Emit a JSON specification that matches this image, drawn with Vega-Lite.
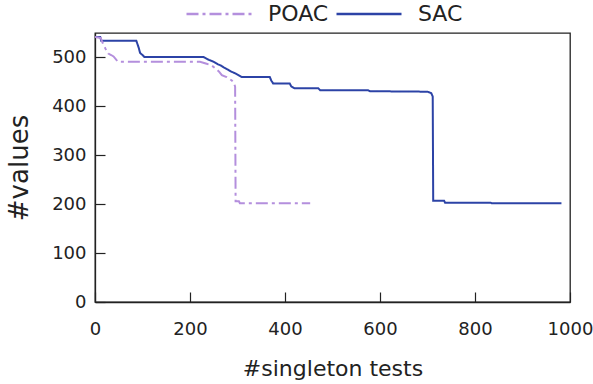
{
  "$schema": "https://vega.github.io/schema/vega-lite/v6.json",
  "width": 475,
  "height": 269,
  "autosize": "none",
  "padding": {"left": 95, "top": 33, "right": 23, "bottom": 82},
  "background": "white",
  "config": {
    "font": "DejaVu Sans",
    "view": {"stroke": "#222", "strokeWidth": 1.3},
    "axis": {
      "grid": false,
      "domainColor": "#222",
      "domainWidth": 1.3,
      "tickColor": "#222",
      "tickWidth": 1.2,
      "tickSize": -10,
      "labelFont": "DejaVu Sans",
      "labelFontSize": 18,
      "labelColor": "#222",
      "titleFont": "DejaVu Sans",
      "titleFontWeight": "normal",
      "titleColor": "#222"
    },
    "legend": {
      "orient": "none",
      "legendX": 90,
      "legendY": -53,
      "direction": "horizontal",
      "symbolType": "stroke",
      "symbolSize": 4225,
      "symbolStrokeWidth": 2.5,
      "labelFontSize": 22,
      "labelFont": "DejaVu Sans",
      "labelColor": "#222",
      "labelOffset": 15,
      "columnPadding": 2
    }
  },
  "data": {
    "values": [
      {"tests": 0, "values": 542, "method": "SAC"},
      {"tests": 11, "values": 542, "method": "SAC"},
      {"tests": 13, "values": 534, "method": "SAC"},
      {"tests": 87, "values": 534, "method": "SAC"},
      {"tests": 92, "values": 520, "method": "SAC"},
      {"tests": 95, "values": 509, "method": "SAC"},
      {"tests": 100, "values": 505, "method": "SAC"},
      {"tests": 104, "values": 501, "method": "SAC"},
      {"tests": 228, "values": 501, "method": "SAC"},
      {"tests": 240, "values": 495, "method": "SAC"},
      {"tests": 250, "values": 491, "method": "SAC"},
      {"tests": 259, "values": 486, "method": "SAC"},
      {"tests": 266, "values": 483, "method": "SAC"},
      {"tests": 272, "values": 479, "method": "SAC"},
      {"tests": 280, "values": 475, "method": "SAC"},
      {"tests": 287, "values": 471, "method": "SAC"},
      {"tests": 294, "values": 468, "method": "SAC"},
      {"tests": 300, "values": 465, "method": "SAC"},
      {"tests": 309, "values": 460, "method": "SAC"},
      {"tests": 368, "values": 460, "method": "SAC"},
      {"tests": 371, "values": 453, "method": "SAC"},
      {"tests": 375, "values": 447, "method": "SAC"},
      {"tests": 410, "values": 447, "method": "SAC"},
      {"tests": 413, "values": 441, "method": "SAC"},
      {"tests": 420, "values": 437, "method": "SAC"},
      {"tests": 470, "values": 437, "method": "SAC"},
      {"tests": 474, "values": 433, "method": "SAC"},
      {"tests": 575, "values": 433, "method": "SAC"},
      {"tests": 579, "values": 431, "method": "SAC"},
      {"tests": 700, "values": 430, "method": "SAC"},
      {"tests": 708, "values": 427, "method": "SAC"},
      {"tests": 711, "values": 420, "method": "SAC"},
      {"tests": 712, "values": 207, "method": "SAC"},
      {"tests": 735, "values": 207, "method": "SAC"},
      {"tests": 737, "values": 203, "method": "SAC"},
      {"tests": 833, "values": 203, "method": "SAC"},
      {"tests": 835, "values": 202, "method": "SAC"},
      {"tests": 982, "values": 202, "method": "SAC"},
      {"tests": 0, "values": 542, "method": "POAC"},
      {"tests": 12, "values": 540, "method": "POAC"},
      {"tests": 16, "values": 530, "method": "POAC"},
      {"tests": 22, "values": 518, "method": "POAC"},
      {"tests": 28, "values": 508, "method": "POAC"},
      {"tests": 34, "values": 505, "method": "POAC"},
      {"tests": 39, "values": 502, "method": "POAC"},
      {"tests": 45, "values": 495, "method": "POAC"},
      {"tests": 49, "values": 491, "method": "POAC"},
      {"tests": 221, "values": 491, "method": "POAC"},
      {"tests": 235, "values": 487, "method": "POAC"},
      {"tests": 245, "values": 484, "method": "POAC"},
      {"tests": 256, "values": 476, "method": "POAC"},
      {"tests": 262, "values": 470, "method": "POAC"},
      {"tests": 267, "values": 464, "method": "POAC"},
      {"tests": 277, "values": 460, "method": "POAC"},
      {"tests": 288, "values": 453, "method": "POAC"},
      {"tests": 293, "values": 447, "method": "POAC"},
      {"tests": 295, "values": 440, "method": "POAC"},
      {"tests": 296, "values": 206, "method": "POAC"},
      {"tests": 303, "values": 206, "method": "POAC"},
      {"tests": 305, "values": 202, "method": "POAC"},
      {"tests": 453, "values": 202, "method": "POAC"}
    ]
  },
  "mark": {"type": "line", "strokeWidth": 2, "clip": true},
  "encoding": {
    "x": {
      "field": "tests",
      "type": "quantitative",
      "scale": {"domain": [0, 1000], "nice": false},
      "axis": {
        "values": [0, 200, 400, 600, 800, 1000],
        "format": "d",
        "title": "#singleton tests",
        "titleFontSize": 22,
        "labelPadding": 28,
        "titlePadding": 20,
        "labelFlush": false
      }
    },
    "y": {
      "field": "values",
      "type": "quantitative",
      "scale": {"domain": [0, 550], "nice": false},
      "axis": {
        "values": [0, 100, 200, 300, 400, 500],
        "format": "d",
        "title": "#values",
        "titleFontSize": 26,
        "labelPadding": 19,
        "titlePadding": 19
      }
    },
    "color": {
      "field": "method",
      "type": "nominal",
      "scale": {"domain": ["POAC", "SAC"], "range": ["#b48fdd", "#2c43a6"]},
      "legend": {"title": null}
    },
    "strokeDash": {
      "field": "method",
      "type": "nominal",
      "scale": {"domain": ["POAC", "SAC"], "range": [[12, 4, 3, 4], [1, 0]]},
      "legend": {"title": null}
    }
  }
}
